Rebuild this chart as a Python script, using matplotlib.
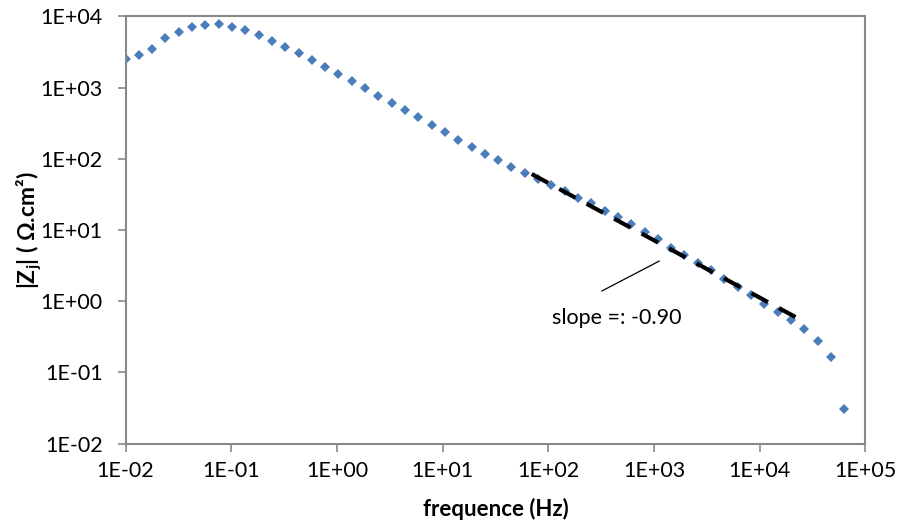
import matplotlib
matplotlib.use("Agg")
import matplotlib.pyplot as plt
from matplotlib.ticker import FixedLocator, FuncFormatter

plt.rcParams['font.family'] = ['Lato', 'DejaVu Sans']
plt.rcParams['mathtext.fontset'] = 'custom'
plt.rcParams['mathtext.bf'] = 'Lato:bold'

# --- data ---
freq = [0.0100, 0.01336, 0.01785, 0.02385, 0.03187, 0.04259, 0.05691, 0.07605,
        0.1017, 0.1358, 0.1815, 0.2426, 0.3242, 0.4332, 0.5789, 0.7736,
        1.034, 1.381, 1.846, 2.466, 3.296, 4.405, 5.886, 7.866,
        10.51, 14.05, 18.77, 25.08, 33.52, 44.79, 59.84, 79.99,
        106.9, 142.8, 190.9, 255.0, 340.8, 455.4, 608.5, 813.2,
        1086, 1452, 1940, 2593, 3465, 4630, 6187, 8268,
        11050, 14760, 19720, 26360, 35220, 47070, 62900]
zj = [2512, 2864, 3515, 4958, 6085, 7077, 7551, 7706,
      7150, 6424, 5518, 4550, 3750, 3020, 2461, 1941,
      1549, 1236, 975, 769, 612, 484, 382, 301,
      237.6, 185.3, 147.9, 117.9, 96.1, 77.4, 63.8, 51.5,
      42.4, 35.6, 28.4, 23.7, 18.5, 15.1, 12.1, 9.37,
      7.47, 5.64, 4.50, 3.47, 2.72, 2.08, 1.57, 1.22,
      0.905, 0.713, 0.540, 0.4035, 0.2763, 0.1663, 0.031]

# linear fit segment (log-log)
fit_f = [69.6, 25240]
fit_z = [61.1, 0.533]
slope_text = 'slope =: -0.90'

xticks = [1e-2, 1e-1, 1e0, 1e1, 1e2, 1e3, 1e4, 1e5]
yticks = [1e-2, 1e-1, 1e0, 1e1, 1e2, 1e3, 1e4]

fig = plt.figure(figsize=(8.99, 5.24), dpi=100)
ax = fig.add_axes([0.1396, 0.1532, 0.8231, 0.8157])

ax.plot(freq, zj, linestyle='none', marker='D', markersize=5.2,
        color='#4A7EBB', markeredgewidth=0, zorder=2)
ax.plot(fit_f, fit_z, color='black', linewidth=3, dashes=(4.5, 3),
        dash_capstyle='butt', zorder=3)

# leader line + label for the slope
ax.annotate('', xy=(1122, 3.67), xytext=(320, 1.39),
            arrowprops=dict(arrowstyle='-', color='black', linewidth=0.9,
                            shrinkA=0, shrinkB=0))
ax.text(108, 0.581, slope_text, fontsize=15.5, ha='left', va='center')

ax.set_xscale('log')
ax.set_yscale('log')
ax.set_xlim(1e-2, 1e5)
ax.set_ylim(1e-2, 1e4)
ax.xaxis.set_major_locator(FixedLocator(xticks))
ax.yaxis.set_major_locator(FixedLocator(yticks))
ax.xaxis.set_minor_locator(FixedLocator([]))
ax.yaxis.set_minor_locator(FixedLocator([]))
fmt = FuncFormatter(lambda v, p: '{:.0E}'.format(v))
ax.xaxis.set_major_formatter(fmt)
ax.yaxis.set_major_formatter(fmt)

for s in ax.spines.values():
    s.set_color('#898989')
    s.set_linewidth(1.5)
ax.tick_params(axis='both', which='major', length=5.5, width=1.2,
               color='#898989', labelsize=15.5, labelcolor='black')
ax.tick_params(axis='x', pad=7)
ax.tick_params(axis='y', pad=11)

ax.set_xlabel('frequence (Hz)', fontsize=16, fontweight='bold', labelpad=12)
ax.set_ylabel(r'|Z$_{\mathbf{j}}$| ( Ω.cm²)', fontsize=16.5, fontweight='bold', labelpad=-3)

fig.savefig('out.png', dpi=100)
